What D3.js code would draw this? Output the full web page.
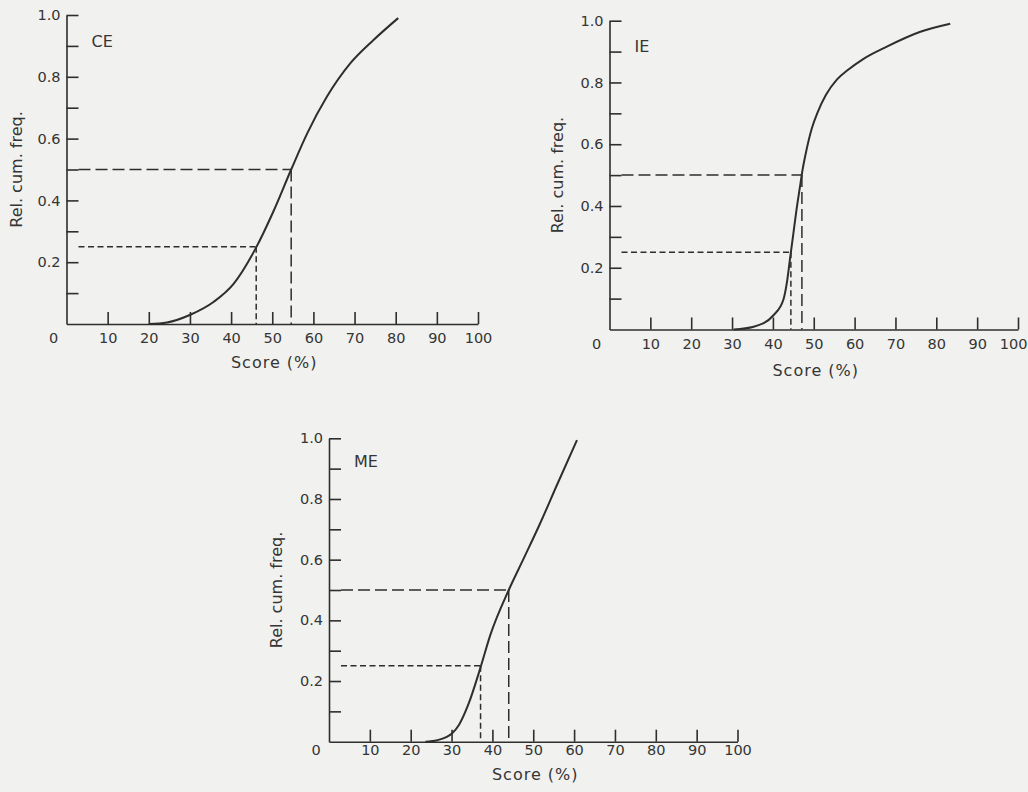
<!DOCTYPE html>
<html>
<head>
<meta charset="utf-8">
<script src="https://cdn.jsdelivr.net/npm/d3@7"></script>
<style>
  html, body { margin: 0; padding: 0; background: #f0f0ee; }
  svg { display: block; font-family: "DejaVu Sans", sans-serif; }
</style>
</head>
<body>
<div id="chart"></div>
<script>
// --------------------------------------
//  Data
// --------------------------------------

const ceScore = [20, 24.4, 30.1, 35.8, 40.6, 46.1, 50.3, 54.6, 58.5, 63.3, 69, 74.6, 80.6];
const ceFreq  = [0, 0.005, 0.03, 0.072, 0.13, 0.248, 0.365, 0.5, 0.617, 0.736, 0.844, 0.919, 0.99];

const ieScore = [30.4, 35.3, 40.2, 42.6, 43.4, 44.2, 45.0, 45.8, 46.6, 47.3, 48.2, 49.5, 51, 53, 55.7, 58.5, 62, 67.9, 76.1, 83.4];
const ieFreq  = [0, 0.009, 0.047, 0.098, 0.15, 0.23, 0.31, 0.39, 0.46, 0.52, 0.58, 0.65, 0.705, 0.76, 0.81, 0.842, 0.875, 0.916, 0.964, 0.99];

const meScore = [23.6, 26.5, 30.1, 31.8, 34.2, 37.1, 39.5, 44, 47.7, 51.7, 55.8, 60.7];
const meFreq  = [0, 0.005, 0.027, 0.055, 0.126, 0.245, 0.352, 0.5, 0.605, 0.72, 0.846, 0.994];

// quartile / median reading lines
const guideFreq = [0.25, 0.5];
const ceGuideScore = [46.1, 54.6];
const ieGuideScore = [44.4, 47.1];
const meGuideScore = [37.1, 44.0];

const xTicks = [10, 20, 30, 40, 50, 60, 70, 80, 90, 100];
const yTicks = [0.1, 0.2, 0.3, 0.4, 0.5, 0.6, 0.7, 0.8, 0.9, 1.0];
const yTickLabels = ["", "0.2", "", "0.4", "", "0.6", "", "0.8", "", "1.0"];

const panelNames = ["CE", "IE", "ME"];
const xTitle = "Score (%)";
const yTitle = "Rel. cum. freq.";

// --------------------------------------
//  Canvas
// --------------------------------------

const width = 1028, height = 792;
const ink = "#2e2e2e";
const textInk = "#353535";

const svg = d3.select("#chart")
  .append("svg")
    .attr("width", width)
    .attr("height", height)
    .attr("viewBox", [0, 0, width, height]);

svg.append("rect")
  .attr("width", width)
  .attr("height", height)
  .attr("fill", "#f1f1ef");

// --------------------------------------
//  One panel
// --------------------------------------

function drawPanel(name, score, freq, guideScore, box) {

  const x = d3.scaleLinear().domain([0, 100]).range([box.left, box.right]);
  const y = d3.scaleLinear().domain([0, 1]).range([box.bottom, box.top]);

  const g = svg.append("g").style("color", ink);

  // y axis, ticks pointing inwards
  const yAxis = g.append("g")
    .attr("transform", `translate(${x(0)},0)`)
    .call(d3.axisLeft(y)
      .tickValues(yTicks)
      .tickSizeInner(-12)
      .tickSizeOuter(0)
      .tickPadding(6)
      .tickFormat((d, i) => yTickLabels[i]));

  // x axis
  const xAxis = g.append("g")
    .attr("transform", `translate(0,${y(0)})`)
    .call(d3.axisBottom(x)
      .tickValues(xTicks)
      .tickSizeInner(-12)
      .tickSizeOuter(0)
      .tickPadding(box.xPad));

  [yAxis, xAxis].forEach(a => {
    a.attr("font-family", null).attr("font-size", null);
    a.selectAll("path, line").attr("stroke-width", 1.6);
    a.selectAll("text")
      .style("font-size", "14.5px")
      .attr("fill", textInk);
  });

  // keep a label that would run past the page edge inside it
  xAxis.selectAll(".tick text")
    .each(function(d) {
      const t = d3.select(this);
      if (x(d) + 15 > width) t.attr("text-anchor", "end").attr("x", width - 1 - x(d));
    });

  // shared origin label
  g.append("text")
    .attr("x", x(0) - 13)
    .attr("y", y(0) + box.xPad)
    .attr("dy", "0.71em")
    .attr("text-anchor", "middle")
    .style("font-size", "14.5px")
    .attr("fill", textInk)
    .text("0");

  // quartile and median guides
  guideFreq.forEach((f, i) => {
    const dash = i === 0 ? "6,3.5" : "12,5";
    g.append("line")
      .attr("x1", x(0) + 12).attr("x2", x(guideScore[i]))
      .attr("y1", y(f)).attr("y2", y(f))
      .attr("stroke", ink)
      .attr("stroke-width", 1.5)
      .attr("stroke-dasharray", dash);
    g.append("line")
      .attr("x1", x(guideScore[i])).attr("x2", x(guideScore[i]))
      .attr("y1", y(f)).attr("y2", y(0))
      .attr("stroke", ink)
      .attr("stroke-width", 1.5)
      .attr("stroke-dasharray", dash);
  });

  // cumulative curve
  const pts = score.map((s, i) => [s, freq[i]]);
  const line = d3.line()
    .curve(d3.curveMonotoneX)
    .x(d => x(d[0]))
    .y(d => y(d[1]));

  g.append("path")
    .datum(pts)
    .attr("fill", "none")
    .attr("stroke", ink)
    .attr("stroke-width", 2)
    .attr("d", line);

  // panel label
  g.append("text")
    .attr("x", x(0) + 25)
    .attr("y", y(1) + box.nameDy)
    .style("font-size", "16px")
    .attr("fill", textInk)
    .text(name);

  // axis titles
  g.append("text")
    .attr("x", x(50) + 2)
    .attr("y", y(0) + box.titleDy)
    .attr("text-anchor", "middle")
    .style("font-size", "16px")
    .style("letter-spacing", "1px")
    .attr("fill", textInk)
    .text(xTitle);

  g.append("text")
    .attr("transform", `translate(${x(0) - box.yTitleDx},${(y(0) + y(1)) / 2}) rotate(-90)`)
    .attr("text-anchor", "middle")
    .style("font-size", "16px")
    .attr("fill", textInk)
    .text(yTitle);
}

drawPanel(panelNames[0], ceScore, ceFreq, ceGuideScore,
  { left: 66.5, right: 478, bottom: 324, top: 15, xPad: 9, titleDy: 44, yTitleDx: 45, nameDy: 32 });

drawPanel(panelNames[1], ieScore, ieFreq, ieGuideScore,
  { left: 609.5, right: 1018, bottom: 329.5, top: 20.7, xPad: 9, titleDy: 46, yTitleDx: 47, nameDy: 31 });

drawPanel(panelNames[2], meScore, meFreq, meGuideScore,
  { left: 329, right: 737.5, bottom: 741.7, top: 438.3, xPad: 3, titleDy: 38, yTitleDx: 47, nameDy: 29 });
</script>
</body>
</html>
